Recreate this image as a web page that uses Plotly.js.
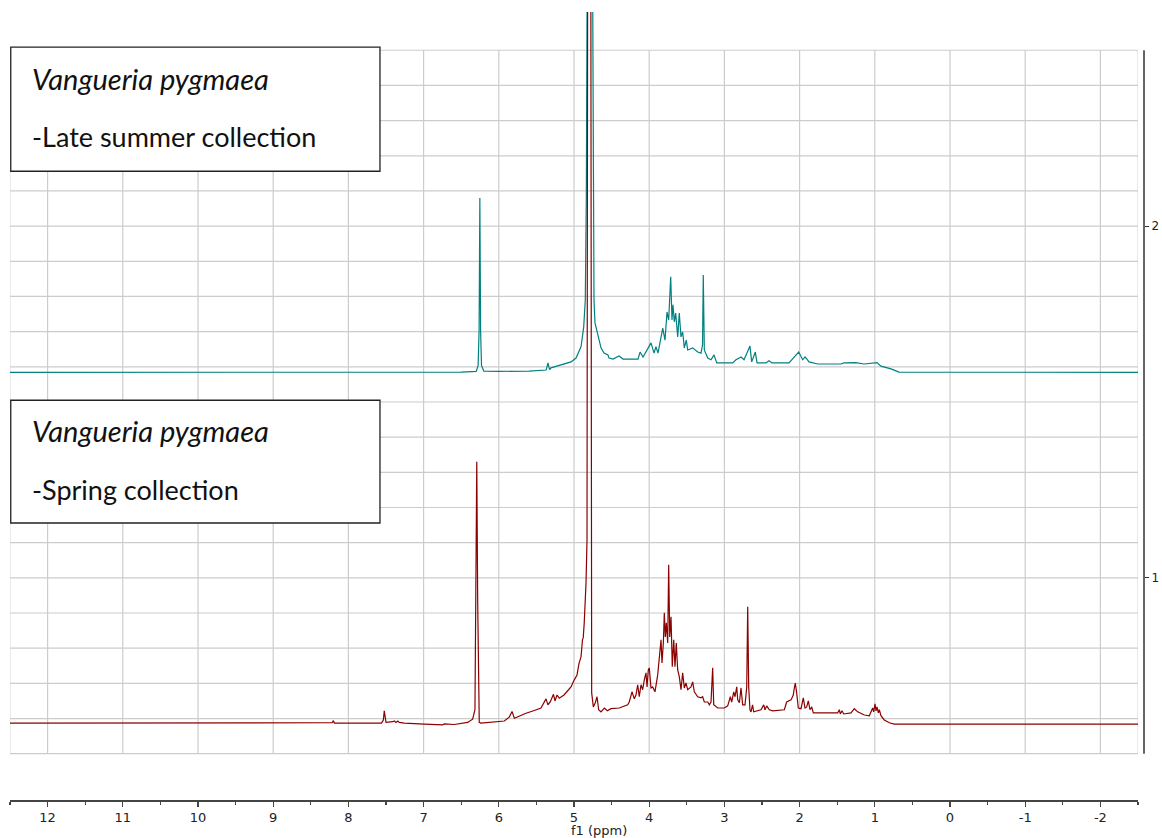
<!DOCTYPE html>
<html>
<head>
<meta charset="utf-8">
<script src="https://cdn.plot.ly/plotly-3.0.1.min.js"></script>
<style>html,body{margin:0;padding:0;background:#fff;}#chart{width:1162px;height:838px;}</style>
</head>
<body>
<div id="chart"></div>
<script>
// ---- Data ----
const xTickVals = [12, 11, 10, 9, 8, 7, 6, 5, 4, 3, 2, 1, 0, -1, -2];
const xTickText = ["12", "11", "10", "9", "8", "7", "6", "5", "4", "3", "2", "1", "0", "-1", "-2"];
const yTickVals = [1, 2];
const yTickText = ["1", "2"];

// Late summer collection (teal, upper trace)
const summerPpm = [12.5,7.6,6.5,6.30,6.275,6.262,6.252,6.242,6.23,6.20,6.0,5.6,5.44,5.37,5.346,5.325,5.306,5.146,5.04,4.973,4.907,4.871,4.850,4.836,4.827,4.80,4.76,4.745,4.734,4.721,4.685,4.641,4.601,4.548,4.535,4.481,4.402,4.348,4.149,4.122,4.082,3.976,3.936,3.910,3.883,3.820,3.790,3.763,3.741,3.714,3.697,3.684,3.666,3.648,3.621,3.600,3.577,3.555,3.533,3.507,3.488,3.422,3.355,3.311,3.291,3.281,3.267,3.222,3.178,3.138,3.102,2.890,2.846,2.779,2.739,2.660,2.637,2.589,2.566,2.447,2.407,2.367,2.141,2.092,2.012,1.959,1.928,1.902,1.875,1.759,1.449,1.410,1.250,1.144,1.028,0.971,0.918,0.785,0.678,-2.5];
const summerInt = [0,0,0.001,0.003,0.02,0.12,0.496,0.12,0.02,0.004,0.003,0.004,0.005,0.007,0.027,0.008,0.013,0.024,0.030,0.041,0.073,0.129,0.206,0.5,1.5,2.5,1.5,0.5,0.206,0.141,0.112,0.070,0.055,0.050,0.041,0.038,0.047,0.038,0.038,0.058,0.044,0.084,0.055,0.073,0.055,0.126,0.092,0.172,0.149,0.272,0.149,0.192,0.144,0.169,0.101,0.169,0.101,0.115,0.070,0.092,0.064,0.070,0.058,0.055,0.078,0.277,0.064,0.041,0.036,0.050,0.027,0.027,0.036,0.044,0.036,0.075,0.030,0.058,0.027,0.027,0.033,0.027,0.027,0.038,0.058,0.036,0.044,0.038,0.030,0.024,0.024,0.027,0.028,0.024,0.027,0.028,0.018,0.010,0.001,0];
const summerOffset = 1.584;

// Spring collection (dark red, lower trace)
const springPpm = [12.5,8.25,8.215,8.20,8.185,7.56,7.535,7.523,7.51,7.50,7.411,7.389,7.367,7.344,7.323,7.256,6.991,6.746,6.725,6.592,6.414,6.348,6.317,6.303,6.293,6.281,6.270,6.260,6.237,5.971,5.927,5.861,5.824,5.793,5.705,5.638,5.528,5.439,5.372,5.346,5.315,5.273,5.253,5.226,5.196,5.133,5.084,5.040,4.996,4.960,4.934,4.907,4.887,4.877,4.864,4.840,4.827,4.814,4.781,4.765,4.743,4.717,4.694,4.672,4.641,4.597,4.556,4.508,4.398,4.286,4.265,4.229,4.198,4.176,4.153,4.132,4.109,4.087,4.065,4.043,4.029,4.012,3.999,3.976,3.954,3.923,3.887,3.860,3.843,3.830,3.812,3.799,3.786,3.772,3.754,3.741,3.727,3.710,3.693,3.674,3.657,3.640,3.621,3.600,3.577,3.555,3.533,3.511,3.488,3.444,3.422,3.400,3.355,3.311,3.289,3.267,3.222,3.200,3.178,3.156,3.142,3.089,3.001,2.956,2.921,2.903,2.876,2.859,2.836,2.823,2.801,2.779,2.757,2.726,2.703,2.690,2.677,2.660,2.646,2.626,2.610,2.513,2.477,2.460,2.437,2.403,2.358,2.203,2.172,2.114,2.084,2.070,2.057,2.039,2.017,1.981,1.951,1.928,1.906,1.884,1.862,1.839,1.818,1.672,1.494,1.472,1.459,1.436,1.414,1.316,1.273,1.228,1.140,1.073,1.028,1.015,0.997,0.984,0.971,0.953,0.940,0.918,0.874,0.807,0.741,-2.5];
const springInt = [0.003,0.003,0.004,0.010,0.003,0.003,0.012,0.038,0.010,0.005,0.007,0.009,0.005,0.009,0.005,0.003,0.0,-0.002,0.001,-0.001,0.005,0.014,0.041,0.354,0.746,0.354,0.03,0.005,0.003,0.007,0.009,0.020,0.036,0.017,0.026,0.031,0.039,0.046,0.072,0.055,0.064,0.085,0.066,0.083,0.074,0.083,0.095,0.106,0.126,0.140,0.172,0.191,0.240,0.246,0.288,0.402,0.524,3.0,3.0,0.089,0.049,0.061,0.078,0.041,0.035,0.046,0.038,0.044,0.046,0.055,0.063,0.092,0.072,0.083,0.112,0.078,0.112,0.098,0.126,0.146,0.106,0.154,0.160,0.103,0.106,0.092,0.140,0.211,0.240,0.174,0.231,0.317,0.248,0.288,0.231,0.453,0.248,0.305,0.163,0.240,0.163,0.231,0.154,0.135,0.098,0.146,0.103,0.117,0.098,0.106,0.120,0.092,0.078,0.075,0.078,0.063,0.063,0.055,0.063,0.160,0.055,0.046,0.046,0.052,0.078,0.063,0.092,0.078,0.106,0.069,0.061,0.103,0.055,0.055,0.106,0.334,0.106,0.041,0.035,0.055,0.035,0.041,0.055,0.041,0.052,0.041,0.038,0.041,0.063,0.069,0.083,0.103,0.117,0.089,0.046,0.044,0.075,0.046,0.049,0.066,0.041,0.049,0.032,0.032,0.032,0.041,0.029,0.038,0.029,0.032,0.044,0.035,0.026,0.024,0.046,0.035,0.058,0.038,0.049,0.032,0.041,0.024,0.012,0.004,0.0,0.0];
const springOffset = 0.584;

const labelSpecies = "Vangueria pygmaea";
const labelSummer = "-Late summer collection";
const labelSpring = "-Spring collection";

// ---- Build ----
const X_LEFT = 12.5, X_RIGHT = -2.5, Y_LOW = 0.5, Y_HIGH = 2.5;
const gridColor = "#cccccc";
const shapes = [];
for (let v = -2; v <= 12; v++) {
  shapes.push({type: "line", xref: "x", yref: "y", x0: v, x1: v, y0: Y_LOW, y1: Y_HIGH, layer: "below", line: {color: gridColor, width: 1.2}});
}
[X_LEFT, X_RIGHT].forEach(v => shapes.push({type: "line", xref: "x", yref: "y", x0: v, x1: v, y0: Y_LOW, y1: Y_HIGH, layer: "below", line: {color: "#dddddd", width: 1.2}}));
for (let i = 0; i <= 20; i++) {
  const v = Y_LOW + i * 0.1;
  shapes.push({type: "line", xref: "x", yref: "y", x0: X_LEFT, x1: X_RIGHT, y0: v, y1: v, layer: "below", line: {color: gridColor, width: 1.2}});
}
// right intensity axis line
shapes.push({type: "line", xref: "paper", yref: "y", x0: 1, x1: 1, y0: Y_LOW, y1: Y_HIGH, layer: "above", line: {color: "#333333", width: 1.5}});
// label boxes
shapes.push({type: "rect", xref: "x", yref: "y", x0: 12.49, x1: 7.58, y0: 2.156, y1: 2.509, layer: "above", fillcolor: "#ffffff", line: {color: "#222222", width: 1.3}});
shapes.push({type: "rect", xref: "x", yref: "y", x0: 12.49, x1: 7.58, y0: 1.156, y1: 1.505, layer: "above", fillcolor: "#ffffff", line: {color: "#222222", width: 1.3}});

const fam = "Lato, 'Open Sans', sans-serif";
const ann = (text, y, italic) => ({xref: "x", yref: "y", x: 12.23, y: y, xanchor: "left", yanchor: "middle", showarrow: false,
  text: italic ? "<i>" + text + "</i>" : text,
  font: {family: fam, size: italic ? 29 : 27, color: "#111111"}});
const annotations = [
  ann(labelSpecies, 2.421, true),
  ann(labelSummer, 2.256, false),
  ann(labelSpecies, 1.420, true),
  ann(labelSpring, 1.252, false),
  {xref: "x", yref: "paper", x: 4.67, y: 0, yshift: -30, xanchor: "center", yanchor: "middle", showarrow: false, text: "f1 (ppm)", font: {family: "'DejaVu Sans', Verdana, sans-serif", size: 13, color: "#222222"}}
];

const traces = [
  {x: summerPpm, y: summerInt.map(v => v + summerOffset), type: "scatter", mode: "lines", line: {color: "#008080", width: 1.2}, hoverinfo: "skip"},
  {x: springPpm, y: springInt.map(v => v + springOffset), type: "scatter", mode: "lines", line: {color: "#8b0000", width: 1.2}, hoverinfo: "skip"}
];

const layout = {
  width: 1162, height: 838,
  margin: {l: 10, r: 18, t: 12, b: 38, pad: 0},
  paper_bgcolor: "#ffffff", plot_bgcolor: "#ffffff",
  showlegend: false,
  xaxis: {
    domain: [0, 0.99471], range: [X_LEFT, X_RIGHT], autorange: false,
    showgrid: false, zeroline: false,
    showline: true, linecolor: "#444444", linewidth: 1.5,
    tickmode: "array", tickvals: xTickVals, ticktext: xTickText,
    ticks: "outside", ticklen: 5, tickwidth: 1.2, tickcolor: "#444444",
    minor: {tickmode: "linear", tick0: 0, dtick: 0.5, ticks: "outside", ticklen: 3, tickwidth: 1.2, tickcolor: "#444444", showgrid: false},
    tickfont: {family: "'DejaVu Sans', Verdana, sans-serif", size: 13, color: "#222222"}
  },
  yaxis: {
    range: [0.3684, 2.6088], autorange: false,
    side: "right", anchor: "free", position: 1,
    showgrid: false, zeroline: false, showline: false,
    tickmode: "array", tickvals: yTickVals, ticktext: yTickText,
    ticks: "outside", ticklen: 4, tickwidth: 1.2, tickcolor: "#333333",
    tickfont: {family: "'DejaVu Sans', Verdana, sans-serif", size: 12, color: "#222222"}
  },
  shapes: shapes,
  annotations: annotations
};

Plotly.newPlot("chart", traces, layout, {staticPlot: true, displayModeBar: false});
</script>
</body>
</html>
